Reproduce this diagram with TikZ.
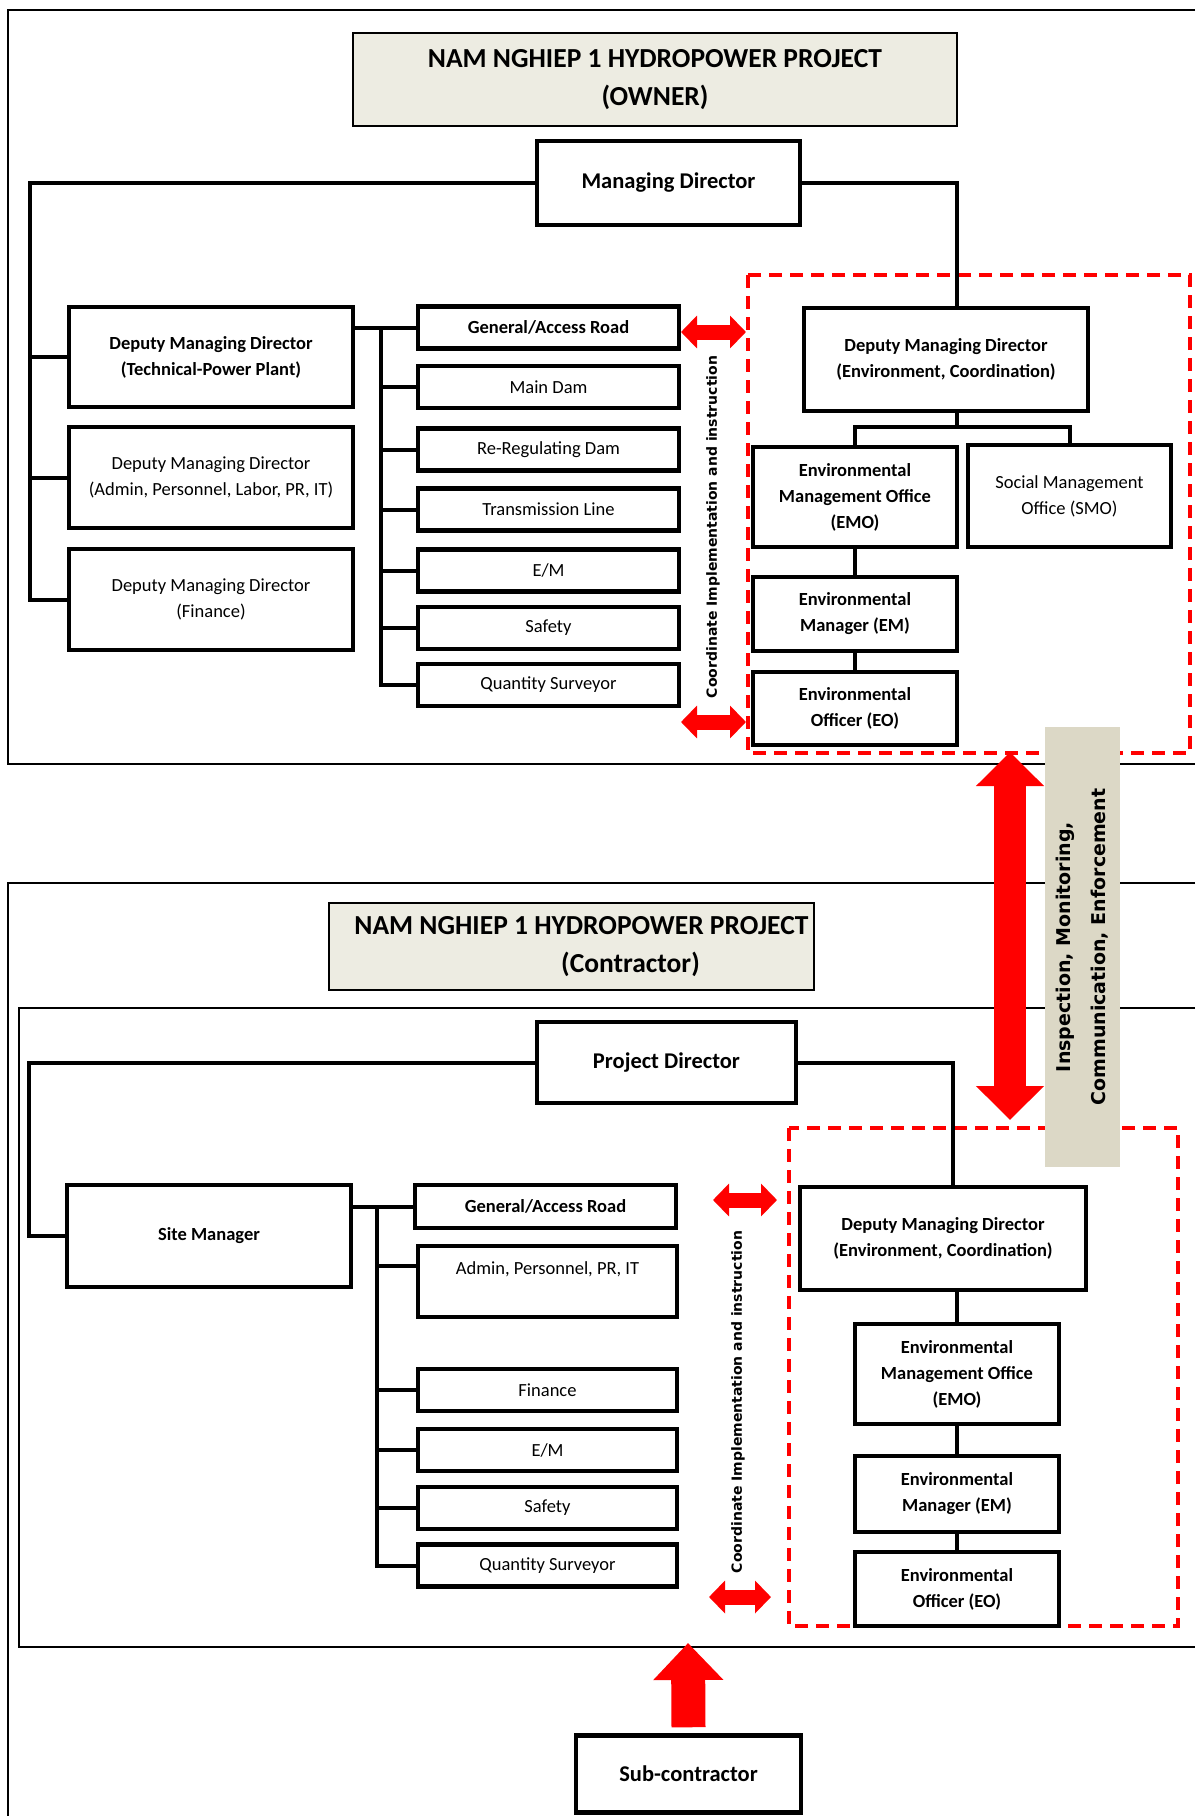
\documentclass[tikz,border=0pt]{standalone}
\usepackage{fontspec}
\setmainfont{Carlito}
\newfontfamily\widefont{DejaVu Sans}
\usetikzlibrary{arrows.meta}

\definecolor{titlefill}{HTML}{EDECE2}
\definecolor{bandfill}{HTML}{DCD8C6}
\definecolor{hotred}{HTML}{FF0000}

\begin{document}
\begin{tikzpicture}[x=1pt, y=-1pt,
  every node/.style={inner sep=0pt, align=center, font=\fontsize{18.5}{26}\selectfont},
  orgbox/.style={draw, line width=4.5pt, fill=white},
  bf/.style={font=\bfseries\fontsize{18.5}{26}\selectfont},
  mdfont/.style={font=\bfseries\fontsize{22.5}{28}\selectfont},
  titlebox/.style={draw, line width=1.8pt, fill=titlefill, font=\bfseries\fontsize{27.5}{38}\selectfont},
  panel/.style={line width=1.6pt},
  wire/.style={line width=4pt},
  envzone/.style={draw=hotred, line width=3.5pt, dash pattern=on 13pt off 8pt},
  twoway/.style={hotred, line width=15pt, {Triangle[length=16pt,width=32pt]}-{Triangle[length=16pt,width=32pt]}},
  sidetext/.style={rotate=90, font=\widefont\bfseries\fontsize{14}{16}\selectfont}]
  \useasboundingbox (0,0) rectangle (1195,1816);

  % frames
  \draw[panel] (1195,10) -- (8,10) -- (8,764) -- (1195,764);
  \draw[panel] (1195,883) -- (8,883) -- (8,1816);
  \draw[panel] (1195,1008) -- (19,1008) -- (19,1647) -- (1195,1647);
  \draw[envzone] (748,275) rectangle (1190,753);
  \draw[envzone] (789,1128) rectangle (1178,1626);

  \node[fill=bandfill, rotate=90, minimum width=440pt, minimum height=75pt, font=\widefont\bfseries\fontsize{19}{35}\selectfont] (band) at (1082.5,947) {Inspection, Monitoring,\\Communication, Enforcement};

  % owner
  \node[titlebox, minimum width=604pt, minimum height=93pt] (ownertitle) at (655,79.5) {NAM NGHIEP 1 HYDROPOWER PROJECT\\(OWNER)};
  \node[orgbox, mdfont, minimum width=263pt, minimum height=84pt] (md) at (668.5,183) {Managing Director};
  \node[orgbox, bf, minimum width=284pt, minimum height=100pt] (dtech) at (211,357) {Deputy Managing Director\\(Technical-Power Plant)};
  \node[orgbox, minimum width=284pt, minimum height=101pt] (dadmin) at (211,477.5) {Deputy Managing Director\\(Admin, Personnel, Labor, PR, IT)};
  \node[orgbox, minimum width=284pt, minimum height=101pt] (dfin) at (211,599.5) {Deputy Managing Director\\(Finance)};
  \node[orgbox, bf, minimum width=261pt, minimum height=42pt] (road) at (548.5,327.5) {General/Access Road};
  \node[orgbox, minimum width=261pt, minimum height=42pt] (dam) at (548.5,387) {Main Dam};
  \node[orgbox, minimum width=261pt, minimum height=42pt] (rereg) at (548.5,449.5) {Re-Regulating Dam};
  \node[orgbox, minimum width=261pt, minimum height=42pt] (trans) at (548.5,509.5) {Transmission Line};
  \node[orgbox, minimum width=261pt, minimum height=42pt] (em) at (548.5,570.5) {E/M};
  \node[orgbox, minimum width=261pt, minimum height=42pt] (safety) at (548.5,628) {Safety};
  \node[orgbox, minimum width=261pt, minimum height=42pt] (qs) at (548.5,685) {Quantity Surveyor};
  \node[orgbox, bf, minimum width=284pt, minimum height=103pt] (envd) at (946,359.5) {Deputy Managing Director\\(Environment, Coordination)};
  \node[orgbox, bf, minimum width=204pt, minimum height=100pt] (emo) at (855,497) {Environmental\\Management Office\\(EMO)};
  \node[orgbox, minimum width=203pt, minimum height=102pt] (smo) at (1069.5,496) {Social Management\\Office (SMO)};
  \node[orgbox, bf, minimum width=204pt, minimum height=74pt] (emgr) at (855,614) {Environmental\\Manager (EM)};
  \node[orgbox, bf, minimum width=204pt, minimum height=73pt] (eo) at (855,708.5) {Environmental\\Officer (EO)};
  \node[sidetext] (owncoord) at (713,527) {Coordinate Implementation and instruction};

  \coordinate (lbus) at (30,183);
  \coordinate (ubus) at (381,330);
  \coordinate (esplit) at (957,427);
  \draw[wire] (md.west) -| (lbus |- dfin.west) -- (dfin.west);
  \draw[wire] (lbus |- dtech.west) -- (dtech.west);
  \draw[wire] (lbus |- dadmin.west) -- (dadmin.west);
  \draw[wire] (road.west -| dtech.east) -- (road.west);
  \draw[wire] (ubus |- road.west) -- (ubus |- qs.west) -- (qs.west);
  \draw[wire] (ubus |- dam.west) -- (dam.west);
  \draw[wire] (ubus |- rereg.west) -- (rereg.west);
  \draw[wire] (ubus |- trans.west) -- (trans.west);
  \draw[wire] (ubus |- em.west) -- (em.west);
  \draw[wire] (ubus |- safety.west) -- (safety.west);
  \draw[wire] (md.east) -| ([xshift=11pt]envd.north);
  \draw[wire] ([xshift=11pt]envd.south) -- (esplit);
  \draw[wire] (emo.north) |- (esplit) -| (smo.north);
  \draw[wire] (emo.south) -- (emgr.north);
  \draw[wire] (emgr.south) -- (eo.north);

  \coordinate (ownarrA) at (681,332);
  \coordinate (ownarrB) at (746,332);
  \coordinate (ownarrC) at (681,722);
  \coordinate (ownarrD) at (746,722);
  \draw[twoway] (ownarrA) -- (ownarrB);
  \draw[twoway] (ownarrC) -- (ownarrD);

  % contractor
  \node[titlebox, minimum width=485pt, minimum height=87pt] (contitle) at (571.5,946.5) {\hspace*{20pt}NAM NGHIEP 1 HYDROPOWER PROJECT\\\hspace*{118pt}(Contractor)};
  \node[orgbox, mdfont, minimum width=259pt, minimum height=81pt] (pd) at (666.5,1062.5) {Project Director};
  \node[orgbox, bf, minimum width=284pt, minimum height=102pt] (sm) at (209,1236) {Site Manager};
  \node[orgbox, bf, minimum width=261pt, minimum height=43pt] (road2) at (545.5,1206.5) {General/Access Road};
  \node[orgbox, minimum width=259pt, minimum height=71pt] (admin2) at (547.5,1281.5) {Admin, Personnel, PR, IT\\\mbox{}};
  \node[orgbox, minimum width=259pt, minimum height=42pt] (fin2) at (547.5,1390) {Finance};
  \node[orgbox, minimum width=259pt, minimum height=42pt] (em2) at (547.5,1450) {E/M};
  \node[orgbox, minimum width=259pt, minimum height=42pt] (safety2) at (547.5,1508) {Safety};
  \node[orgbox, minimum width=259pt, minimum height=42pt] (qs2) at (547.5,1565.5) {Quantity Surveyor};
  \node[orgbox, bf, minimum width=286pt, minimum height=103pt] (envd2) at (943,1238.5) {Deputy Managing Director\\(Environment, Coordination)};
  \node[orgbox, bf, minimum width=204pt, minimum height=100pt] (emo2) at (957,1374) {Environmental\\Management Office\\(EMO)};
  \node[orgbox, bf, minimum width=204pt, minimum height=76pt] (emgr2) at (957,1494) {Environmental\\Manager (EM)};
  \node[orgbox, bf, minimum width=204pt, minimum height=74pt] (eo2) at (957,1589) {Environmental\\Officer (EO)};
  \node[sidetext] (concoord) at (738,1402) {Coordinate Implementation and instruction};
  \node[orgbox, mdfont, minimum width=225pt, minimum height=77pt] (sub) at (688.5,1774) {Sub-contractor};

  \coordinate (lbus2) at (29,1063);
  \coordinate (ubus2) at (377,1210);
  \draw[wire] (pd.west) -| (lbus2 |- sm.west) -- (sm.west);
  \draw[wire] (road2.west -| sm.east) -- (road2.west);
  \draw[wire] (ubus2 |- road2.west) -- (ubus2 |- qs2.west) -- (qs2.west);
  \draw[wire] ([yshift=16pt]admin2.west -| ubus2) -- ([yshift=16pt]admin2.west);
  \draw[wire] (ubus2 |- fin2.west) -- (fin2.west);
  \draw[wire] (ubus2 |- em2.west) -- (em2.west);
  \draw[wire] (ubus2 |- safety2.west) -- (safety2.west);
  \draw[wire] (pd.east) -| ([xshift=10pt]envd2.north);
  \draw[wire] (emo2.north |- envd2.south) -- (emo2.north);
  \draw[wire] (emo2.south) -- (emgr2.north);
  \draw[wire] (emgr2.south) -- (eo2.north);

  \coordinate (conarrA) at (713,1200);
  \coordinate (conarrB) at (777,1200);
  \coordinate (conarrC) at (709,1597);
  \coordinate (conarrD) at (771,1597);
  \draw[twoway] (conarrA) -- (conarrB);
  \draw[twoway] (conarrC) -- (conarrD);

  % links between the two parts
  \coordinate (insA) at (1010,752);
  \coordinate (insB) at (1010,1120);
  \draw[hotred, line width=32pt, {Triangle[length=34pt,width=66pt]}-{Triangle[length=34pt,width=66pt]}] (insA) -- (insB);
  \coordinate (subtip) at (688,1643);
  \draw[hotred, line width=34pt, -{Triangle[length=37pt,width=68pt]}] ([yshift=6pt]sub.north) -- (subtip);
\end{tikzpicture}
\end{document}
